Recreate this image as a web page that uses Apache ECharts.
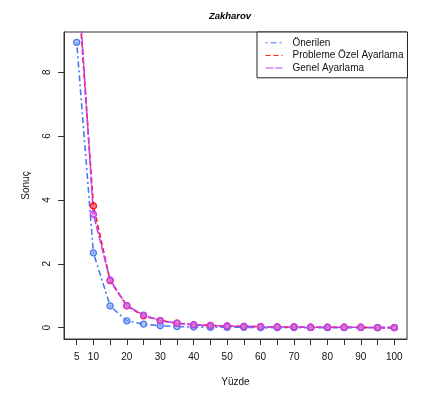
<!DOCTYPE html>
<html>
<head>
<meta charset="utf-8">
<script src="https://cdn.jsdelivr.net/npm/echarts@6/dist/echarts.min.js"></script>
<style>
  html, body { margin: 0; padding: 0; background: #fff; }
  #chart { width: 421px; height: 402px; }
</style>
</head>
<body>
<div id="chart"></div>
<script>
// Percent of budget used (x) and resulting objective value for the Zakharov function
const yuzde = [5, 10, 15, 20, 25, 30, 35, 40, 45, 50, 55, 60, 65, 70, 75, 80, 85, 90, 95, 100];
const onerilen = [8.93, 2.34, 0.68, 0.21, 0.11, 0.06, 0.03, 0.02, 0.01, 0.01, 0.01, 0.00, 0.00, 0.00, 0.00, 0.00, 0.00, 0.00, 0.00, 0.00];
const problemeOzel = [11.2, 3.81, 1.47, 0.68, 0.37, 0.22, 0.14, 0.09, 0.07, 0.05, 0.04, 0.03, 0.02, 0.02, 0.01, 0.01, 0.01, 0.01, 0.00, 0.00];
const genel = [11.6, 3.55, 1.49, 0.69, 0.39, 0.22, 0.14, 0.09, 0.06, 0.05, 0.04, 0.03, 0.02, 0.02, 0.01, 0.01, 0.01, 0.01, 0.00, 0.00];

const xTicks = [5, 10, 15, 20, 25, 30, 35, 40, 45, 50, 55, 60, 65, 70, 75, 80, 85, 90, 95, 100];
const xLabels = [5, 10, 20, 30, 40, 50, 60, 70, 80, 90, 100];
const yTicks = [0, 2, 4, 6, 8];

const FONT = '"Liberation Sans", Arial, sans-serif';
const pairs = ys => yuzde.map((x, i) => [x, ys[i]]);

const chart = echarts.init(document.getElementById('chart'), null, { renderer: 'canvas' });

function lineSeries(name, ys, color, fill, dash) {
  return {
    name: name,
    type: 'line',
    data: pairs(ys),
    clip: true,
    symbol: 'circle',
    symbolSize: 6,
    showSymbol: true,
    lineStyle: { color: color, width: 1.6, type: dash },
    itemStyle: { color: fill, borderColor: color, borderWidth: 1.4 },
    emphasis: { disabled: true },
    animation: false
  };
}

chart.setOption({
  animation: false,
  backgroundColor: '#fff',
  title: {
    text: 'Zakharov',
    left: 225,
    top: 6,
    textAlign: 'center',
    textStyle: { fontFamily: FONT, fontSize: 9.5, fontWeight: 'bold', fontStyle: 'italic', color: '#000' }
  },
  grid: {
    left: 64, top: 32, right: 14, bottom: 63,
    show: true, borderColor: '#333', borderWidth: 1, backgroundColor: 'transparent'
  },
  legend: {
    orient: 'vertical',
    left: 257,
    top: 32,
    padding: [5, 4, 4, 8],
    itemWidth: 17,
    itemHeight: 12,
    itemGap: 1,
    backgroundColor: '#fff',
    borderColor: '#222',
    borderWidth: 1,
    borderRadius: 0,
    selectedMode: false,
    itemStyle: { opacity: 0 },
    lineStyle: { width: 1 },
    textStyle: { fontFamily: FONT, fontSize: 10, color: '#111', padding: [0, 0, 0, 5] },
    data: ['Önerilen', 'Probleme Özel Ayarlama', 'Genel Ayarlama']
  },
  xAxis: {
    type: 'value',
    min: 1.2,
    max: 103.8,
    name: 'Yüzde',
    nameLocation: 'middle',
    nameGap: 38,
    nameTextStyle: { fontFamily: FONT, fontSize: 10, color: '#111' },
    splitLine: { show: false },
    axisLine: { show: true, onZero: false, lineStyle: { color: '#333' } },
    axisTick: { show: true, inside: false, length: 6, lineStyle: { color: '#333' }, customValues: xTicks },
    axisLabel: { fontFamily: FONT, fontSize: 10, color: '#111', margin: 13, customValues: xLabels }
  },
  yAxis: {
    type: 'value',
    min: -0.356,
    max: 9.256,
    name: 'Sonuç',
    nameLocation: 'middle',
    nameGap: 33,
    nameRotate: 90,
    nameTextStyle: { fontFamily: FONT, fontSize: 10, color: '#111' },
    splitLine: { show: false },
    axisLine: { show: true, onZero: false, lineStyle: { color: '#333' } },
    axisTick: { show: true, inside: false, length: 6, lineStyle: { color: '#333' }, customValues: yTicks },
    axisLabel: { fontFamily: FONT, fontSize: 10, color: '#111', margin: 12, rotate: 90, customValues: yTicks }
  },
  series: [
    lineSeries('Önerilen', onerilen, '#4a78f0', 'rgba(120,160,255,0.55)', [2, 3, 6, 3]),
    lineSeries('Probleme Özel Ayarlama', problemeOzel, '#ff1010', 'rgba(255,90,90,0.55)', [5, 3]),
    lineSeries('Genel Ayarlama', genel, '#c040f5', 'rgba(215,120,255,0.55)', [8, 2])
  ]
});
</script>
</body>
</html>
